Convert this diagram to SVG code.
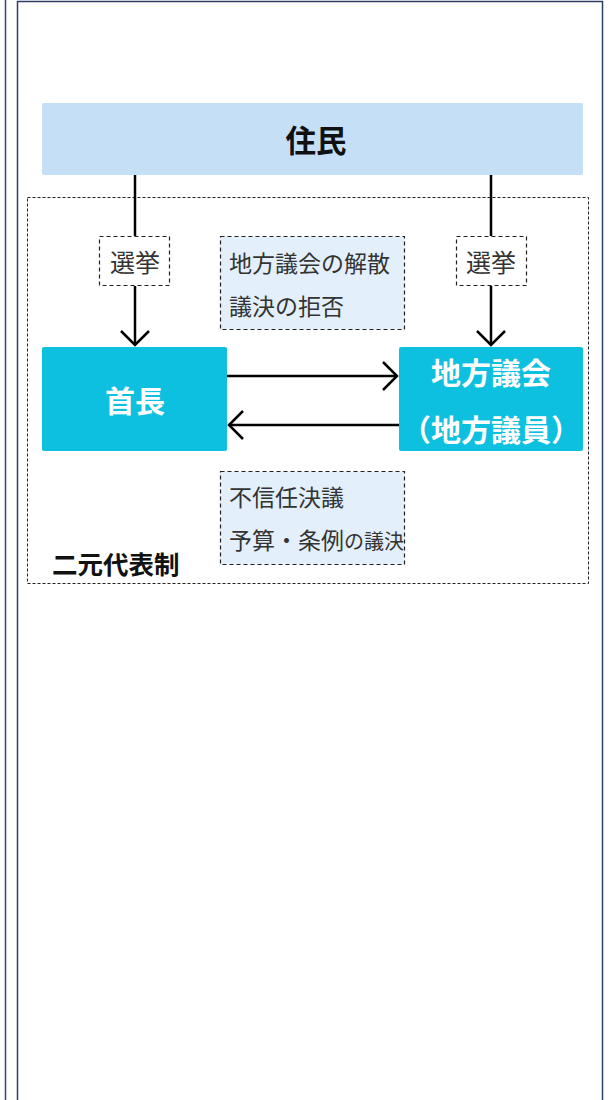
<svg xmlns="http://www.w3.org/2000/svg" width="611" height="1100" viewBox="0 0 611 1100">
  <style>
    .jp { font-family: "Noto Sans CJK JP", "Noto Sans", sans-serif; }
    .bold { font-weight: bold; }
    .lbl { font-size: 23px; fill: #333333; }
    .sel { font-size: 25px; fill: #333333; }
    .wht { fill: #ffffff; font-weight: bold; font-size: 30px; }
    .dash { fill: #ffffff; stroke: #222222; stroke-width: 1.2; stroke-dasharray: 4 3; }
    .pbox { fill: #e3f0fb; stroke: #222222; stroke-width: 1.2; stroke-dasharray: 4 3; }
    .line { stroke: #000000; stroke-width: 2.5; fill: none; }
  </style>
  <defs>
    <marker id="chev" viewBox="-16 -16 18 32" markerWidth="18" markerHeight="32" refX="0" refY="0" markerUnits="userSpaceOnUse" orient="auto" overflow="visible">
      <path d="M-14,-14 L0,0 L-14,14" fill="none" stroke="#000000" stroke-width="2.5"/>
    </marker>
  </defs>
  <rect width="611" height="1100" fill="#ffffff"/>
  <g id="frame">
    <line x1="5.5" y1="0" x2="5.5" y2="1100" stroke="#34466e" stroke-width="1.5"/>
    <rect x="17.5" y="1.5" width="585" height="1110" fill="none" stroke="#2c3e66" stroke-width="1.5"/>
  </g>
  <g id="group-nigen">
    <rect x="27.5" y="197.5" width="561" height="386" fill="none" stroke="#222222" stroke-width="1" stroke-dasharray="3 2"/>
    <text class="jp bold" x="52" y="574" font-size="25.5" fill="#111111">二元代表制</text>
  </g>
  <g id="connectors">
    <line class="line" x1="135" y1="175" x2="135" y2="236"/>
    <line class="line" x1="135" y1="286" x2="135" y2="345" marker-end="url(#chev)"/>
    <line class="line" x1="491" y1="175" x2="491" y2="236"/>
    <line class="line" x1="491" y1="286" x2="491" y2="345" marker-end="url(#chev)"/>
    <line class="line" x1="227" y1="376" x2="397" y2="376" marker-end="url(#chev)"/>
    <line class="line" x1="399" y1="425" x2="229" y2="425" marker-end="url(#chev)"/>
  </g>
  <g id="jumin">
    <rect x="42" y="103" width="541" height="72" rx="2" fill="#c5e0f6"/>
    <text class="jp bold" x="316" y="152" font-size="30.5" text-anchor="middle" fill="#111111">住民</text>
  </g>
  <g id="senkyo-left">
    <rect class="dash" x="99.5" y="236.5" width="70" height="49"/>
    <text class="jp sel" x="135" y="272" text-anchor="middle">選挙</text>
  </g>
  <g id="senkyo-right">
    <rect class="dash" x="456.5" y="236.5" width="70" height="49"/>
    <text class="jp sel" x="491" y="272" text-anchor="middle">選挙</text>
  </g>
  <g id="power-mayor">
    <rect class="pbox" x="220.5" y="236.5" width="184" height="93"/>
    <text class="jp lbl" x="229" y="272">地方議会の解散</text>
    <text class="jp lbl" x="229" y="315">議決の拒否</text>
  </g>
  <g id="shucho">
    <rect x="42" y="347" width="185" height="104" rx="2" fill="#0ec0e0"/>
    <text class="jp wht" x="135" y="412" text-anchor="middle">首長</text>
  </g>
  <g id="gikai">
    <rect x="399" y="347" width="184" height="104" rx="2" fill="#0ec0e0"/>
    <text class="jp wht" x="491" y="384" text-anchor="middle">地方議会</text>
    <text class="jp wht" x="491" y="441" text-anchor="middle">（地方議員）</text>
  </g>
  <g id="power-council">
    <rect class="pbox" x="220.5" y="471.5" width="184" height="93"/>
    <text class="jp lbl" x="229" y="506">不信任決議</text>
    <text class="jp lbl" x="229" y="549">予算・条例<tspan style="font-size:20px">の議決</tspan></text>
  </g>
</svg>
